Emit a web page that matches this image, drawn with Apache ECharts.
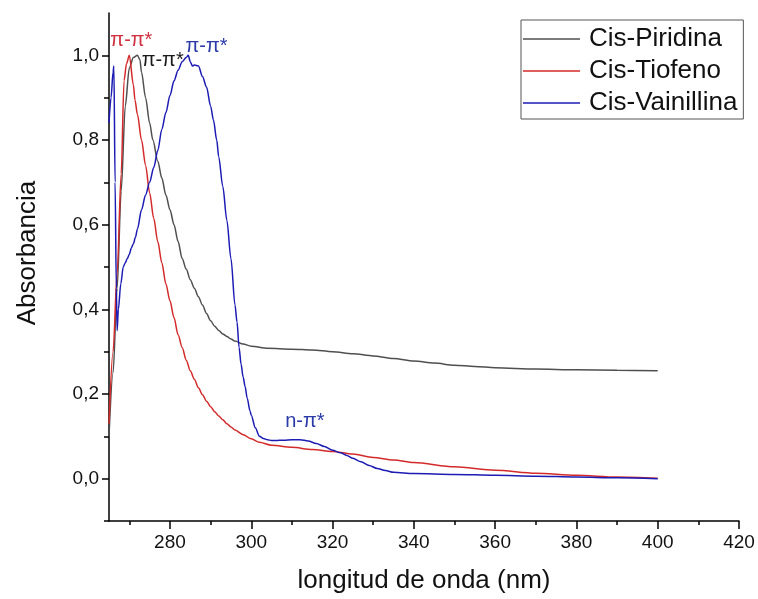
<!DOCTYPE html>
<html>
<head>
<meta charset="utf-8">
<script src="https://cdn.jsdelivr.net/npm/echarts@6/dist/echarts.min.js"></script>
<style>html,body{margin:0;padding:0;background:#fff}#c{width:758px;height:599px}</style>
</head>
<body>
<div id="c"></div>
<script>
// ---- data ----
const piridinaX = [265,266,267,268,269,270,271,272,272.6,273,274,275,275.8,277,278,279,280,281,282,283,284,285,286,287,288,289,290,291,292,293,294,295,296,298,300,304,310,315,320,325,330,335,340,345,350,355,360,370,380,390,400];
const piridinaY = [0.10,0.25,0.45,0.68,0.88,0.97,0.995,1.0,0.99,0.96,0.90,0.84,0.80,0.75,0.71,0.67,0.635,0.60,0.56,0.52,0.495,0.47,0.45,0.43,0.41,0.39,0.373,0.36,0.35,0.342,0.336,0.33,0.325,0.318,0.313,0.308,0.306,0.304,0.300,0.295,0.290,0.284,0.278,0.273,0.268,0.265,0.262,0.259,0.257,0.256,0.255];

const tiofenoX = [265,266,267,268,268.7,269.3,270,271,271.4,272,273,274,275,276,277,278,279,280,281,282,283,284,285,286,287,288,289,290,291,292,293,294,295,296,298,300,302,305,310,315,320,325,330,335,340,350,360,370,380,390,400];
const tiofenoY = [0.13,0.30,0.485,0.72,0.94,0.98,1.0,0.93,0.894,0.86,0.80,0.74,0.675,0.615,0.56,0.51,0.46,0.42,0.38,0.34,0.31,0.28,0.255,0.235,0.215,0.198,0.183,0.17,0.158,0.148,0.139,0.13,0.122,0.115,0.104,0.094,0.086,0.079,0.074,0.069,0.064,0.058,0.050,0.044,0.038,0.028,0.020,0.013,0.008,0.004,0.001];

const vainillinaX = [265,265.5,266,266.2,266.5,266.8,267,267.3,267.9,268.5,269,269.5,270,270.5,271,271.5,272,273,274,275,276,277,278,279,280,281,282,283,284,284.5,285,285.5,286,287,288,289,290,290.7,291.5,292,293,294,295,296,296.5,297,297.5,298,298.5,299,299.7,300,301,302,303,304,305,306,308,310,312,314,316,318,320,322,323.5,325,327,329,331,333,335,340,350,360,370,380,390,400];
const vainillinaY = [0.84,0.90,0.96,0.975,0.70,0.45,0.35,0.40,0.46,0.50,0.51,0.52,0.53,0.545,0.555,0.57,0.59,0.635,0.67,0.70,0.735,0.775,0.825,0.865,0.905,0.94,0.965,0.985,0.995,1.0,0.985,0.975,0.977,0.975,0.95,0.925,0.88,0.847,0.80,0.76,0.69,0.61,0.52,0.41,0.37,0.31,0.27,0.24,0.217,0.19,0.16,0.15,0.12,0.10,0.095,0.092,0.09,0.09,0.091,0.092,0.092,0.089,0.083,0.076,0.067,0.061,0.055,0.048,0.040,0.031,0.024,0.019,0.015,0.012,0.010,0.008,0.006,0.004,0.002,0.0];

const seriesNames = ['Cis-Piridina','Cis-Tiofeno','Cis-Vainillina'];
const xMajorTicks = [280,300,320,340,360,380,400,420];
const xMinorTicks = [270,290,310,330,350,370,390,410];
const yMajorTicks = [0,0.2,0.4,0.6,0.8,1.0];
const yMinorTicks = [-0.1,0.1,0.3,0.5,0.7,0.9];
const xTitle = 'longitud de onda (nm)';
const yTitle = 'Absorbancia';
// annotation anchors: [x, y, text]
const annRed = [270.5, 1.034, 'π-π*'];
const annBlack = [278.2, 0.989, 'π-π*'];
const annBlue = [289.0, 1.02, 'π-π*'];
const annBlueN = [313.2, 0.136, 'n-π*'];

const zip = (xs, ys) => xs.map((x, i) => [x, ys[i]]);
const FONT = 'Liberation Sans, Arial, sans-serif';
const colGray = '#4f4f4f', colRed = '#d42a2a', colBlue = '#1c1cb4';

function ann(a, color) {
  return {
    symbol: 'rect', symbolSize: 1, itemStyle: {color: 'rgba(0,0,0,0)'},
    data: [{coord: [a[0], a[1]], value: a[2]}],
    label: {show: true, position: 'inside', formatter: a[2], color: color, fontSize: 20, fontFamily: FONT},
    silent: true, animation: false
  };
}

const chart = echarts.init(document.getElementById('c'));
chart.setOption({
  animation: false,
  backgroundColor: '#fff',
  grid: {left: 109, right: 19, top: 13, bottom: 78},
  legend: {
    orient: 'vertical', left: 521, top: 20,
    data: seriesNames,
    icon: 'rect',
    itemWidth: 57, itemHeight: 1.5, itemGap: 6,
    padding: [6, 6, 3, 2],
    borderColor: '#555', borderWidth: 1,
    textStyle: {fontSize: 26, lineHeight: 26, fontFamily: FONT, color: '#111', padding: [0, 0, 0, 4]}
  },
  graphic: [{
    type: 'text', x: 28, y: 253, rotation: Math.PI / 2,
    style: {text: yTitle, fontSize: 26, fontFamily: FONT, fill: '#111', textAlign: 'center', textVerticalAlign: 'middle'}
  }],
  xAxis: [{
    type: 'value', min: 265, max: 420,
    name: xTitle, nameLocation: 'middle', nameGap: 47,
    nameTextStyle: {fontSize: 26, fontFamily: FONT, color: '#111'},
    axisLine: {show: true, onZero: false, lineStyle: {color: '#000', width: 1.5}},
    splitLine: {show: false},
    axisTick: {show: true, length: 8, lineStyle: {color: '#000', width: 1.5}, customValues: xMajorTicks},
    axisLabel: {show: true, customValues: xMajorTicks, fontSize: 19, fontFamily: FONT, color: '#111', margin: 12}
  }, {
    type: 'value', min: 265, max: 420, position: 'bottom',
    axisLine: {show: false, onZero: false}, splitLine: {show: false},
    axisTick: {show: true, length: 4, lineStyle: {color: '#000', width: 1.5}, customValues: xMinorTicks},
    axisLabel: {show: false}
  }],
  yAxis: [{
    type: 'value', min: -0.1, max: 1.1,
    axisLine: {show: true, onZero: false, lineStyle: {color: '#000', width: 1.5}},
    splitLine: {show: false},
    axisTick: {show: true, length: 7, lineStyle: {color: '#000', width: 1.5}, customValues: yMajorTicks},
    axisLabel: {show: true, customValues: yMajorTicks, fontSize: 19, fontFamily: FONT, color: '#111', margin: 10,
      formatter: v => v.toFixed(1).replace('.', ',')}
  }, {
    type: 'value', min: -0.1, max: 1.1, position: 'left',
    axisLine: {show: false, onZero: false}, splitLine: {show: false},
    axisTick: {show: true, length: 5, lineStyle: {color: '#000', width: 1.5}, customValues: yMinorTicks},
    axisLabel: {show: false}
  }],
  series: [{
    name: seriesNames[0], type: 'line', data: zip(piridinaX, piridinaY),
    symbol: 'none', smooth: 0.3, smoothMonotone: 'x',
    lineStyle: {color: colGray, width: 1.5}, itemStyle: {color: colGray},
    markPoint: ann(annBlack, '#1a1a1a'), z: 3
  }, {
    name: seriesNames[1], type: 'line', data: zip(tiofenoX, tiofenoY),
    symbol: 'none', smooth: 0.3, smoothMonotone: 'x',
    lineStyle: {color: colRed, width: 1.5}, itemStyle: {color: colRed},
    markPoint: ann(annRed, '#d03040'), z: 4
  }, {
    name: seriesNames[2], type: 'line', data: zip(vainillinaX, vainillinaY),
    symbol: 'none', smooth: 0.3, smoothMonotone: 'x',
    lineStyle: {color: colBlue, width: 1.5}, itemStyle: {color: colBlue},
    markPoint: {
      ...ann(annBlue, '#2a3aa8'),
      data: [{coord: [annBlue[0], annBlue[1]], label: {formatter: annBlue[2]}},
             {coord: [annBlueN[0], annBlueN[1]], label: {formatter: annBlueN[2]}}],
      label: {show: true, position: 'inside', color: '#2a3aa8', fontSize: 20, fontFamily: FONT}
    }, z: 5
  }]
});
</script>
</body>
</html>
